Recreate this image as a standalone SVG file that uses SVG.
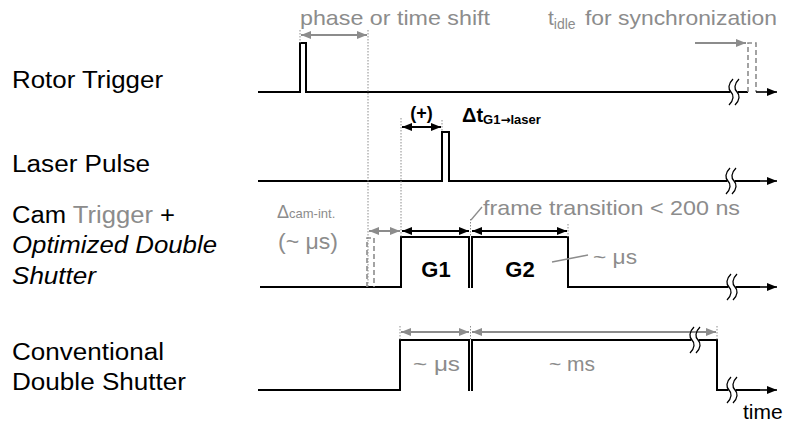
<svg xmlns="http://www.w3.org/2000/svg" width="791" height="426" viewBox="0 0 791 426">
<style>
.lbl{font-family:"Liberation Sans",Arial,sans-serif;font-size:23px;fill:#000}
.gt{font-family:"Liberation Sans",Arial,sans-serif;fill:#8c8c8c}
.bt{font-family:"Liberation Sans",Arial,sans-serif;font-weight:bold;fill:#000}
.sig{fill:none;stroke:#000;stroke-width:2}
.ax{fill:none;stroke:#000;stroke-width:1.6}
.dot{fill:none;stroke:#8c8c8c;stroke-width:1;stroke-dasharray:1.5 1.5}
.dash{fill:none;stroke:#8c8c8c;stroke-width:1.6;stroke-dasharray:5 3}
.ga{fill:none;stroke:#8c8c8c;stroke-width:2}
.ba{fill:none;stroke:#000;stroke-width:2.2}
.lead{fill:none;stroke:#8c8c8c;stroke-width:1.3}
</style>
<defs>
<marker id="ak" viewBox="0 0 10 8" refX="10" refY="4" markerWidth="11" markerHeight="8" markerUnits="userSpaceOnUse" orient="auto-start-reverse"><path d="M0,0 L10,4 L0,8 z" fill="#000"/></marker>
<marker id="ag" viewBox="0 0 10 8" refX="10" refY="4" markerWidth="11" markerHeight="8" markerUnits="userSpaceOnUse" orient="auto-start-reverse"><path d="M0,0 L10,4 L0,8 z" fill="#8c8c8c"/></marker>
<g id="brk">
<rect x="-3.5" y="-5" width="7" height="10" fill="#fff"/>
<path d="M-1,-13 C-6,-8 -6,-3 -3,0 C0,3 0,8 -5,13 M5,-13 C0,-8 0,-3 3,0 C6,3 6,8 1,13" fill="none" stroke="#000" stroke-width="1.3"/>
</g>
</defs>

<g id="labels">
<text class="lbl" x="12" y="88" textLength="151" lengthAdjust="spacingAndGlyphs">Rotor Trigger</text>
<text class="lbl" x="12" y="172" textLength="138" lengthAdjust="spacingAndGlyphs">Laser Pulse</text>
<text class="lbl" x="12" y="223" textLength="163" lengthAdjust="spacingAndGlyphs">Cam <tspan fill="#8c8c8c">Trigger</tspan> +</text>
<text class="lbl" x="12" y="253" font-style="italic" textLength="205" lengthAdjust="spacingAndGlyphs">Optimized Double</text>
<text class="lbl" x="12" y="284" font-style="italic" textLength="84" lengthAdjust="spacingAndGlyphs">Shutter</text>
<text class="lbl" x="12" y="360" textLength="152" lengthAdjust="spacingAndGlyphs">Conventional</text>
<text class="lbl" x="12" y="390" textLength="174" lengthAdjust="spacingAndGlyphs">Double Shutter</text>
</g>

<g id="rotor-trigger">
<path class="sig" d="M258,92 H300 V43 H306 V92 H748"/>
<path class="dash" d="M748,92 V43 H756 V92"/>
<use href="#brk" x="734" y="92"/>
<line class="ax" x1="756" y1="92" x2="777" y2="92" marker-end="url(#ak)"/>
</g>

<g id="laser-pulse">
<path class="sig" d="M258,181 H442 V132 H449 V181 H760"/>
<use href="#brk" x="731" y="181"/>
<line class="ax" x1="756" y1="181" x2="777" y2="181" marker-end="url(#ak)"/>
</g>

<g id="cam-trigger">
<path class="sig" d="M260,287 H401 V237 H469 V288"/>
<path class="sig" d="M472,288 V237 H568 V287 H760"/>
<path class="dash" d="M367,287 V238 H374 V287"/>
<use href="#brk" x="732" y="287"/>
<line class="ax" x1="756" y1="287" x2="777" y2="287" marker-end="url(#ak)"/>
</g>

<g id="conventional-shutter">
<path class="sig" d="M258,390 H400 V340 H469 V391"/>
<path class="sig" d="M472,391 V340 H717 V390 H760"/>
<use href="#brk" x="732" y="390"/>
<line class="ax" x1="756" y1="390" x2="777" y2="390" marker-end="url(#ak)"/>
</g>

<g id="connectors">
<line class="dot" x1="300" y1="30" x2="300" y2="43"/>
<line class="dot" x1="368" y1="30" x2="368" y2="287"/>
<line class="dot" x1="401" y1="118" x2="401" y2="237"/>
<line class="dot" x1="442" y1="120" x2="442" y2="132"/>
<line class="dot" x1="470.5" y1="219" x2="470.5" y2="237"/>
<line class="dot" x1="568" y1="224" x2="568" y2="237"/>
<line class="dot" x1="400" y1="326" x2="400" y2="340"/>
<line class="dot" x1="470.5" y1="326" x2="470.5" y2="340"/>
<line class="dot" x1="717" y1="326" x2="717" y2="340"/>

<line class="ga" x1="301" y1="35" x2="367" y2="35" marker-start="url(#ag)" marker-end="url(#ag)"/>
<line class="ga" x1="695" y1="43" x2="746" y2="43" marker-end="url(#ag)"/>
<line class="ba" x1="402" y1="127" x2="441" y2="127" marker-start="url(#ak)" marker-end="url(#ak)"/>
<line class="ga" x1="369" y1="231" x2="400" y2="231" marker-start="url(#ag)" marker-end="url(#ag)"/>
<line class="ba" x1="402" y1="231" x2="469" y2="231" marker-start="url(#ak)" marker-end="url(#ak)"/>
<line class="ba" x1="472" y1="231" x2="567" y2="231" marker-start="url(#ak)" marker-end="url(#ak)"/>
<line class="ga" x1="401" y1="332" x2="469" y2="332" marker-start="url(#ag)" marker-end="url(#ag)"/>
<line class="ga" x1="472" y1="332" x2="716" y2="332" marker-start="url(#ag)" marker-end="url(#ag)"/>
<use href="#brk" x="695" y="340"/>

<line class="lead" x1="471" y1="220" x2="482" y2="207"/>
<line class="lead" x1="552" y1="262" x2="588" y2="255"/>
</g>

<g id="annotations">
<text class="gt" x="300" y="25" font-size="21" textLength="190" lengthAdjust="spacingAndGlyphs">phase or time shift</text>
<text class="gt" x="548" y="25" font-size="21">t<tspan font-size="14" dy="4">idle</tspan></text>
<text class="gt" x="585" y="25" font-size="21" textLength="192" lengthAdjust="spacingAndGlyphs">for synchronization</text>
<text class="bt" x="421.5" y="119" font-size="18" text-anchor="middle">(+)</text>
<text class="bt" x="462" y="122" font-size="20">Δt<tspan font-size="13" dy="2">G1<tspan font-family="DejaVu Sans, sans-serif" font-size="12">→</tspan>laser</tspan></text>
<text class="gt" x="277" y="218" font-size="18">Δ<tspan font-size="13">cam-int.</tspan></text>
<text class="gt" x="278" y="249" font-size="22" textLength="60" lengthAdjust="spacingAndGlyphs">(~ μs)</text>
<text class="gt" x="483" y="215" font-size="21" textLength="257" lengthAdjust="spacingAndGlyphs">frame transition &lt; 200 ns</text>
<text class="bt" x="436" y="277" font-size="22" text-anchor="middle">G1</text>
<text class="bt" x="520" y="277" font-size="22" text-anchor="middle">G2</text>
<text class="gt" x="593" y="264" font-size="21" textLength="44" lengthAdjust="spacingAndGlyphs">~ μs</text>
<text class="gt" x="413" y="371" font-size="21" textLength="47" lengthAdjust="spacingAndGlyphs">~ μs</text>
<text class="gt" x="572" y="371" font-size="21" text-anchor="middle">~ ms</text>
<text x="743" y="419" font-family="Liberation Sans, Arial, sans-serif" font-size="21" fill="#000">time</text>
</g>
</svg>
